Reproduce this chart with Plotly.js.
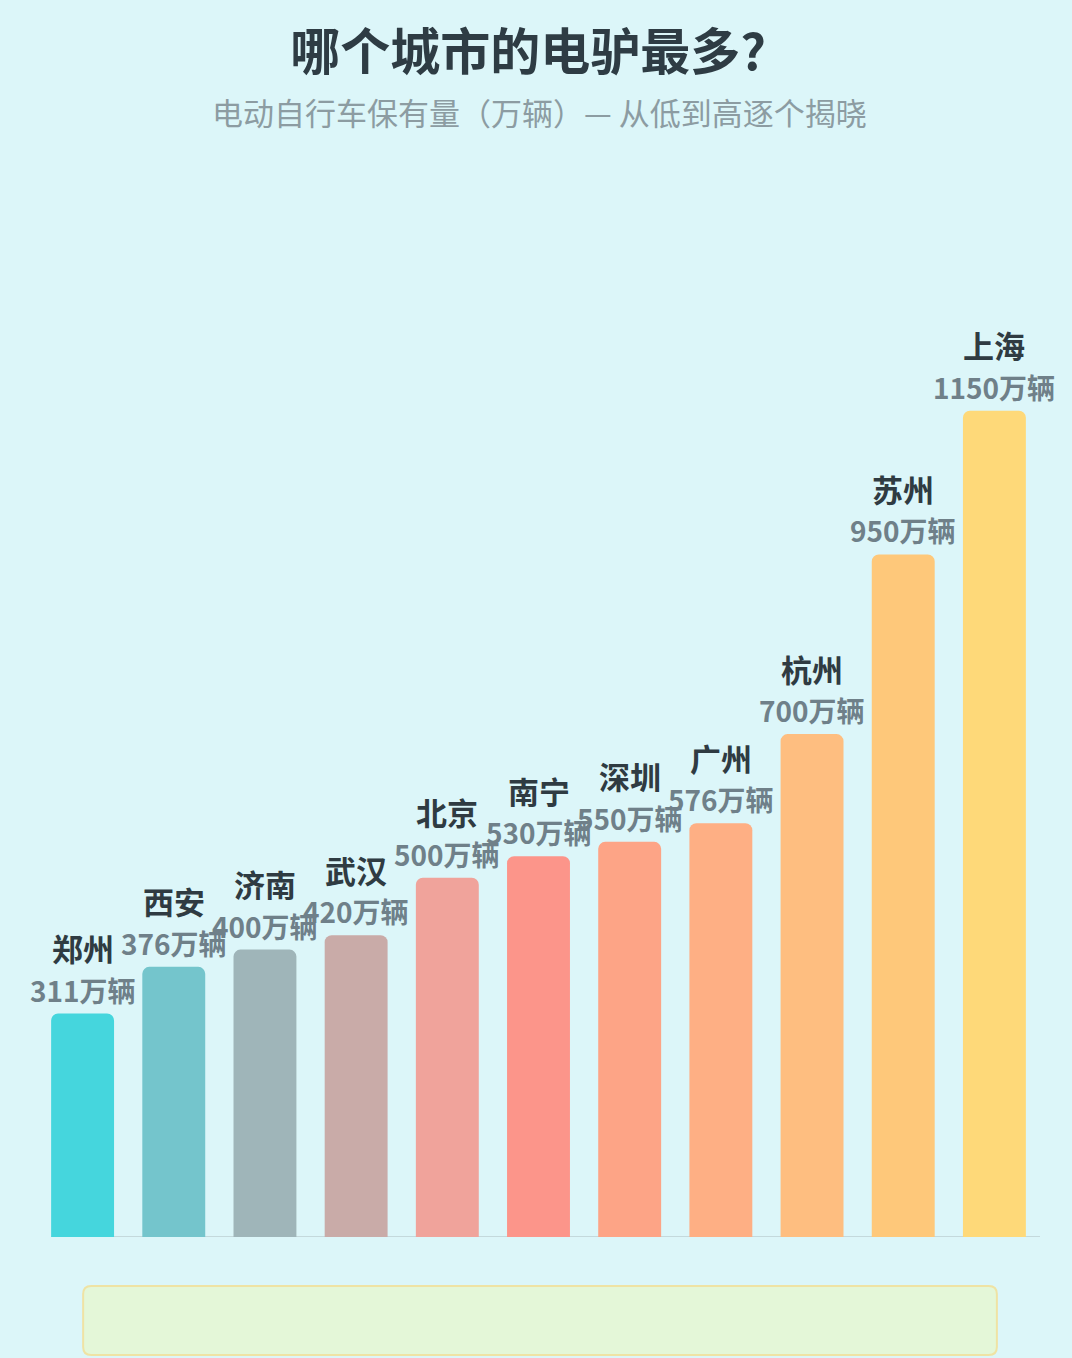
<!DOCTYPE html>
<html>
<head>
<meta charset="utf-8">
<script src="https://cdn.plot.ly/plotly-3.0.1.min.js"></script>
<style>
  html, body { margin: 0; padding: 0; background: #dcf6f9; overflow: hidden; }
  #chart { width: 1072px; height: 1358px; }
</style>
</head>
<body>
<div id="chart"></div>
<script>
// 城市和保有量（万辆），从低到高
const cities = ['郑州', '西安', '济南', '武汉', '北京', '南宁', '深圳', '广州', '杭州', '苏州', '上海'];
const counts = [311, 376, 400, 420, 500, 530, 550, 576, 700, 950, 1150];
const barColors = ['#45d6dd', '#74c5cc', '#9fb5b9', '#c9aba8', '#f0a39b', '#fc958a',
                   '#fda486', '#feaf84', '#febe80', '#fec87a', '#fed979'];

const bars = {
  type: 'bar',
  x: cities,
  y: counts,
  marker: { color: barColors, cornerradius: 7, line: { width: 0 } },
  hoverinfo: 'x+y'
};

// 每根柱子上方两行标签：城市名 + 数值
const annotations = [];
cities.forEach((c, i) => {
  annotations.push({
    x: c, y: counts[i], xref: 'x', yref: 'y',
    text: counts[i] + '万辆', showarrow: false,
    yanchor: 'middle', yshift: 24,
    font: { family: 'Noto Sans CJK SC', size: 28, color: '#6f8089', weight: 700 }
  });
  annotations.push({
    x: c, y: counts[i], xref: 'x', yref: 'y',
    text: '<b>' + c + '</b>', showarrow: false,
    yanchor: 'middle', yshift: 66,
    font: { family: 'Noto Sans CJK SC', size: 31, color: '#2f3b42' }
  });
});

annotations.push({
  xref: 'paper', yref: 'paper', x: (539 - 37) / 1003, y: 1 + 39 / 1087,
  text: '电动自行车保有量（万辆）— 从低到高逐个揭晓',
  showarrow: false, yanchor: 'middle',
  font: { family: 'Noto Sans CJK SC', size: 31, color: '#8c9ca2' }
});

// 底部圆角框（纸面坐标）
const bx0 = 0.046, bx1 = 0.957, by0 = -0.1086, by1 = -0.045, rx = 0.008, ry = 0.0074;
const boxPath = `M ${bx0 + rx},${by1} L ${bx1 - rx},${by1} Q ${bx1},${by1} ${bx1},${by1 - ry} ` +
  `L ${bx1},${by0 + ry} Q ${bx1},${by0} ${bx1 - rx},${by0} L ${bx0 + rx},${by0} ` +
  `Q ${bx0},${by0} ${bx0},${by0 + ry} L ${bx0},${by1 - ry} Q ${bx0},${by1} ${bx0 + rx},${by1} Z`;

const layout = {
  width: 1072,
  height: 1358,
  paper_bgcolor: '#dcf6f9',
  plot_bgcolor: 'rgba(0,0,0,0)',
  margin: { l: 37, r: 32, t: 150, b: 121 },
  title: {
    text: '<b>哪个城市的电驴最多?</b>',
    x: 528 / 1072, xanchor: 'center',
    y: 1 - 52 / 1358, yanchor: 'middle',
    font: { family: 'Noto Sans CJK SC', size: 50, color: '#2e3c44' }
  },
  bargap: 0.31,
  xaxis: { range: [-0.5, cities.length - 0.5], autorange: false, showticklabels: false,
           showgrid: false, zeroline: false, showline: false, fixedrange: true },
  yaxis: { range: [0, 1513], autorange: false, showticklabels: false, showgrid: false,
           zeroline: false, showline: false, fixedrange: true },
  showlegend: false,
  annotations: annotations,
  shapes: [
    { type: 'line', xref: 'paper', yref: 'y', x0: 0.014, x1: 1, y0: 0, y1: 0,
      line: { color: 'rgba(190,210,212,0.8)', width: 2 }, layer: 'below' },
    { type: 'path', xref: 'paper', yref: 'paper', path: boxPath,
      fillcolor: '#e4f7d8', line: { color: '#efe3a4', width: 2 } }
  ]
};

Plotly.newPlot('chart', [bars], layout, { displayModeBar: false });
</script>
</body>
</html>
